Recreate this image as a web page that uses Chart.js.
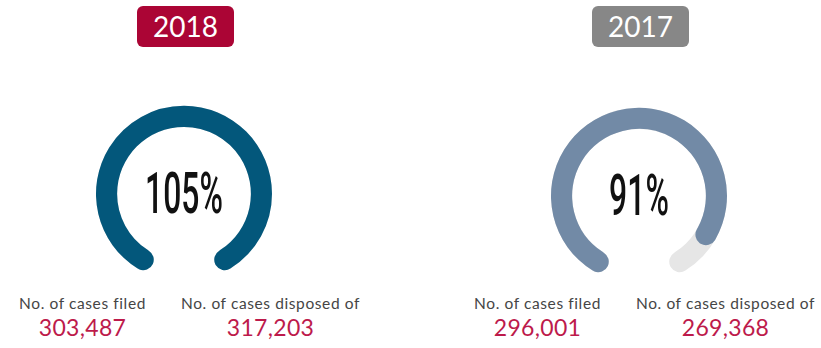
<!DOCTYPE html>
<html>
<head>
<meta charset="utf-8">
<title>Case clearance rate</title>
<script src="https://cdn.jsdelivr.net/npm/chart.js@4.4.0/dist/chart.umd.min.js"></script>
<style>
    html, body { margin: 0; padding: 0; background: #fff; }
    #stage { position: relative; width: 821px; height: 348px; overflow: hidden; font-family: Lato, 'Noto Sans', sans-serif; }
    .badge { position: absolute; top: 6px; width: 97px; height: 41px; line-height: 41px; border-radius: 6px; color: #fff; font-size: 28px; text-align: center; }
    .gauge { position: absolute; width: 200px; height: 200px; }
    .gauge canvas { position: absolute; left: 0; top: 0; }
    .cap { position: absolute; width: 240px; margin-left: -120px; text-align: center; font-size: 15.5px; line-height: 15px; letter-spacing: 0.6px; color: #454545; white-space: nowrap; }
    .num { position: absolute; width: 200px; margin-left: -100px; text-align: center; font-size: 23px; line-height: 22px; letter-spacing: 0.3px; color: #bd1a4b; }
</style>
</head>
<body>
<div id="stage"></div>
<script>
// Filed vs disposed cases per year
const years = ['2018', '2017'];
const casesFiled = [303487, 296001];
const casesDisposed = [317203, 269368];
const filedLabel = 'No. of cases filed';
const disposedLabel = 'No. of cases disposed of';

// Styling, kept apart from the data
const arcColors = ['#03577b', '#728aa6'];
const badgeColors = ['#ab0535', '#878787'];
const trackColor = '#e6e6e6';
const gaugeCenters = [{ x: 184, y: 194 }, { x: 639, y: 196 }];

// Percentage text in the middle of the ring, condensed by a horizontal scale
const centerText = {
    id: 'centerText',
    afterDatasetsDraw(chart, args, opts) {
        if (!opts.text) return;
        const arc = chart.getDatasetMeta(0).data[0];
        const ctx = chart.ctx;
        ctx.save();
        ctx.translate(arc.x, arc.y);
        ctx.scale(0.55, 1);
        ctx.font = '500 58px Roboto';
        ctx.fillStyle = '#111';
        ctx.textAlign = 'center';
        ctx.textBaseline = 'alphabetic';
        ctx.fillText(opts.text, 0, 19.5);
        ctx.restore();
    }
};

function gaugeOptions(text) {
    return {
        responsive: false,
        animation: false,
        events: [],
        rotation: -156,
        circumference: 312,
        radius: 88,
        cutout: '76%',
        layout: { padding: 0 },
        plugins: {
            legend: { display: false },
            tooltip: { enabled: false },
            centerText: { text: text }
        }
    };
}

function addEl(cls, css, text) {
    const el = document.createElement('div');
    el.className = cls;
    Object.assign(el.style, css);
    if (text !== undefined) el.textContent = text;
    document.getElementById('stage').appendChild(el);
    return el;
}

function makeCanvas(parent) {
    const c = document.createElement('canvas');
    c.width = 200;
    c.height = 200;
    parent.appendChild(c);
    return c;
}

years.forEach((year, i) => {
    const c = gaugeCenters[i];
    const ratio = casesDisposed[i] / casesFiled[i] * 100;
    const fill = Math.min(ratio, 100);

    addEl('badge', { left: (c.x - 47) + 'px', background: badgeColors[i] }, year);

    const wrap = addEl('gauge', { left: (c.x - 100) + 'px', top: (c.y - 104) + 'px' });

    // grey track for the full range
    new Chart(makeCanvas(wrap), {
        type: 'doughnut',
        data: { datasets: [{ data: [100], backgroundColor: [trackColor], borderWidth: 0, borderRadius: 11 }] },
        options: gaugeOptions(null)
    });

    // disposed / filed share on top of the track
    new Chart(makeCanvas(wrap), {
        type: 'doughnut',
        data: {
            datasets: [{
                data: [fill, 100 - fill],
                backgroundColor: [arcColors[i], 'rgba(0,0,0,0)'],
                borderWidth: 0,
                borderRadius: [11, 0]
            }]
        },
        options: gaugeOptions(Math.round(ratio) + '%'),
        plugins: [centerText]
    });

    addEl('cap', { left: (c.x - 101.5) + 'px', top: '296px' }, filedLabel);
    addEl('cap', { left: (c.x + 86.5) + 'px', top: '296px' }, disposedLabel);
    addEl('num', { left: (c.x - 101.5) + 'px', top: '316px' }, casesFiled[i].toLocaleString('en-US'));
    addEl('num', { left: (c.x + 86.5) + 'px', top: '316px' }, casesDisposed[i].toLocaleString('en-US'));
});
</script>
</body>
</html>
